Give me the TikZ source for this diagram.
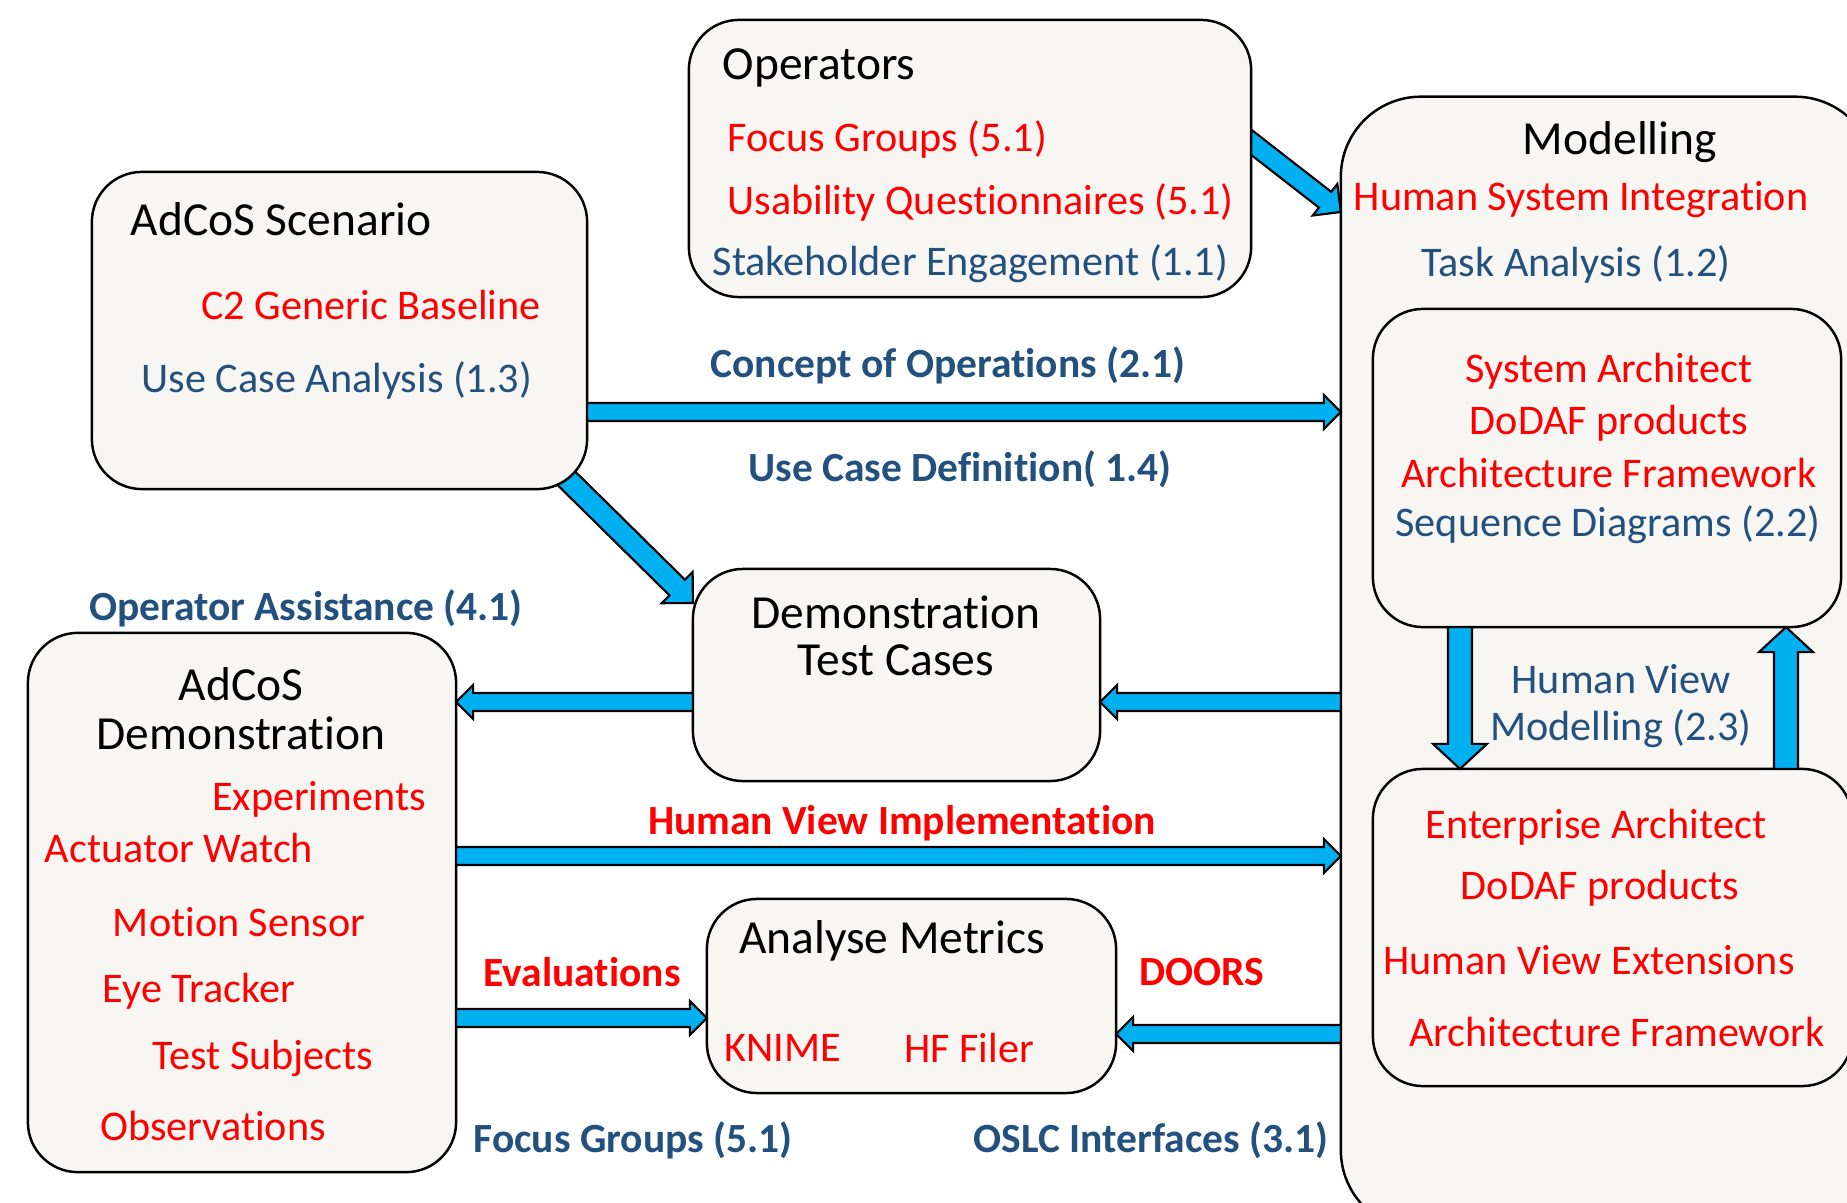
\documentclass[tikz,border=0pt]{standalone}
\usepackage{fontspec}
\setmainfont{Carlito}[Ligatures={NoCommon,NoContextual,NoRare},RawFeature={-calt}]
\usetikzlibrary{calc,backgrounds}

\definecolor{boxfill}{HTML}{F7F6F2}
\definecolor{flowblue}{HTML}{00B0F0}
\definecolor{refblue}{HTML}{22507F}

\tikzset{
  panel/.style={draw,line width=0.7pt,fill=boxfill,rounded corners=5mm,inner sep=0pt,outer sep=0pt},
  head/.style={font=\fontsize{13.5}{16}\selectfont,inner sep=0pt},
  red item/.style={font=\fontsize{12}{14}\selectfont,text=red,inner sep=0pt},
  blue item/.style={font=\fontsize{12}{14}\selectfont,text=refblue,inner sep=0pt},
  red label/.style={font=\fontsize{11.8}{14}\selectfont\bfseries,text=red,inner sep=0pt},
  blue label/.style={font=\fontsize{11.8}{14}\selectfont\bfseries,text=refblue,inner sep=0pt},
  shaft/.store in=\shafthw, tipw/.store in=\tiphw, tipl/.store in=\tiplen,
  shaft=0.9mm, tipw=1.7mm, tipl=1.7mm,
  flow/.style={draw,line width=0.6pt,fill=flowblue,line join=miter,
    to path={
      ($(\tikztotarget)!\tiplen!(\tikztostart)$) coordinate (tb)
      ($(\tikztostart)!\shafthw!90:(\tikztotarget)$)
      -- ($(tb)!\shafthw!90:(\tikztotarget)$)
      -- ($(tb)!\tiphw!90:(\tikztotarget)$)
      -- (\tikztotarget)
      -- ($(tb)!\tiphw!-90:(\tikztotarget)$)
      -- ($(tb)!\shafthw!-90:(\tikztotarget)$)
      -- ($(\tikztostart)!\shafthw!-90:(\tikztotarget)$)
      -- cycle}},
}

\begin{document}
\begin{tikzpicture}[x=0.01cm,y=-0.01cm]
  \useasboundingbox (0,0) rectangle (1847,1203);
  \clip (0,0) rectangle (1847,1203);

  % boxes
  \node[panel,minimum width=5.34cm,minimum height=11.33cm,rounded corners=8mm] (model) at (1608,663.5) {};
  \node[panel,minimum width=4.68cm,minimum height=3.18cm] (sysarch) at (1607,468) {};
  \node[panel,minimum width=4.79cm,minimum height=3.17cm] (entarch) at (1612.5,927.5) {};
  \node[panel,minimum width=5.62cm,minimum height=2.77cm] (ops) at (970,158.5) {};
  \node[panel,minimum width=4.95cm,minimum height=3.17cm] (scen) at (339.5,330.5) {};
  \node[panel,minimum width=4.07cm,minimum height=2.12cm] (tcases) at (896.5,675) {};
  \node[panel,minimum width=4.28cm,minimum height=5.39cm] (demo) at (242,902.5) {};
  \node[panel,minimum width=4.09cm,minimum height=1.94cm] (metrics) at (911.5,996) {};

  % operators
  \node[head,anchor=west] (ops-title) at (722,68) {Operators};
  \node[red item,anchor=west] (ops-focus) at (727,139) {Focus Groups (5.1)};
  \node[red item,anchor=west] (ops-usab) at (727,202) {Usability Questionnaires (5.1)};
  \node[blue item,anchor=west] (ops-stake) at (712,264) {Stakeholder Engagement (1.1)};

  % modelling
  \node[head] (mod-title) at (1620,142) {Modelling};
  \node[red item] (mod-hsi) at (1581,200) {Human System Integration};
  \node[blue item] (mod-task) at (1576,264) {Task Analysis (1.2)};
  \node[red item] (sys-tool) at (1609,371) {System Architect};
  \node[red item] (sys-dodaf) at (1609,423) {DoDAF products};
  \node[red item] (sys-frame) at (1609,473) {Architecture Framework};
  \node[blue item] (sys-seq) at (1608,525) {Sequence Diagrams (2.2)};
  \node[blue item] (hv-top) at (1621,679) {Human View};
  \node[blue item] (hv-bot) at (1621,729) {Modelling (2.3)};
  \node[red item] (ent-tool) at (1596,827) {Enterprise Architect};
  \node[red item] (ent-dodaf) at (1600,888) {DoDAF products};
  \node[red item] (ent-ext) at (1589,960) {Human View Extensions};
  \node[red item] (ent-frame) at (1617,1032) {Architecture Framework};

  % scenario
  \node[head,anchor=west] (scen-title) at (130,219) {AdCoS Scenario};
  \node[red item] (scen-base) at (371,305) {C2 Generic Baseline};
  \node[blue item] (scen-uca) at (337,380) {Use Case Analysis (1.3)};

  % test cases
  \node[head] (tc-top) at (896,612) {Demonstration};
  \node[head] (tc-bot) at (896,660) {Test Cases};

  % demonstration
  \node[head] (demo-top) at (241,684) {AdCoS};
  \node[head] (demo-bot) at (241,733) {Demonstration};
  \node[red item] (demo-exp) at (319,799) {Experiments};
  \node[red item] (demo-watch) at (179,848) {Actuator Watch};
  \node[red item] (demo-motion) at (239,922) {Motion Sensor};
  \node[red item] (demo-eye) at (199,991) {Eye Tracker};
  \node[red item] (demo-subj) at (263,1058) {Test Subjects};
  \node[red item] (demo-obs) at (213,1126) {Observations};

  % metrics
  \node[head] (met-title) at (892,941) {Analyse Metrics};
  \node[red item] (met-knime) at (783,1048) {KNIME};
  \node[red item] (met-hf) at (969,1048) {HF Filer};

  % labels on the flows
  \node[blue label] (lbl-conops) at (948,365) {Concept of Operations (2.1)};
  \node[blue label] (lbl-ucd) at (960,469) {Use Case Definition( 1.4)};
  \node[blue label] (lbl-assist) at (306,608) {Operator Assistance (4.1)};
  \node[red label] (lbl-hvi) at (902,823) {Human View Implementation};
  \node[red label] (lbl-eval) at (582,972) {Evaluations};
  \node[red label] (lbl-doors) at (1202,972) {DOORS};
  \node[blue label] (lbl-focus) at (633,1140) {Focus Groups (5.1)};
  \node[blue label] (lbl-oslc) at (1151,1140) {OSLC Interfaces (3.1)};

  % flows
  \begin{pgfonlayer}{background}
    \draw[flow,shaft=1.1mm,tipw=2.2mm,tipl=2.2mm] ($(scen.south east)+(-25,-15)$) to (tcases.west |- 0,603);
    \draw[flow,shaft=1.0mm,tipw=2.0mm,tipl=2.0mm] ($(ops.east |- 0,136)+(-8,0)$) to (model.west |- 0,212);
  \end{pgfonlayer}
  \draw[flow] (scen.east |- 0,412) to (model.west |- 0,412);
  \draw[flow] (model.west |- 0,702) to (tcases.east |- 0,702);
  \draw[flow] (tcases.west |- 0,702) to (demo.east |- 0,702);
  \draw[flow] (demo.east |- 0,856) to (model.west |- 0,856);
  \draw[flow] (demo.east |- 0,1018) to (metrics.west |- 0,1018);
  \draw[flow] (model.west |- 0,1034) to (metrics.east |- 0,1034);
  \draw[flow,shaft=1.2mm,tipw=2.7mm,tipl=2.5mm] (sysarch.south -| 1460,0) to (entarch.north -| 1460,0);
  \draw[flow,shaft=1.2mm,tipw=2.7mm,tipl=2.5mm] (entarch.north -| 1786,0) to (sysarch.south -| 1786,0);
\end{tikzpicture}
\end{document}
